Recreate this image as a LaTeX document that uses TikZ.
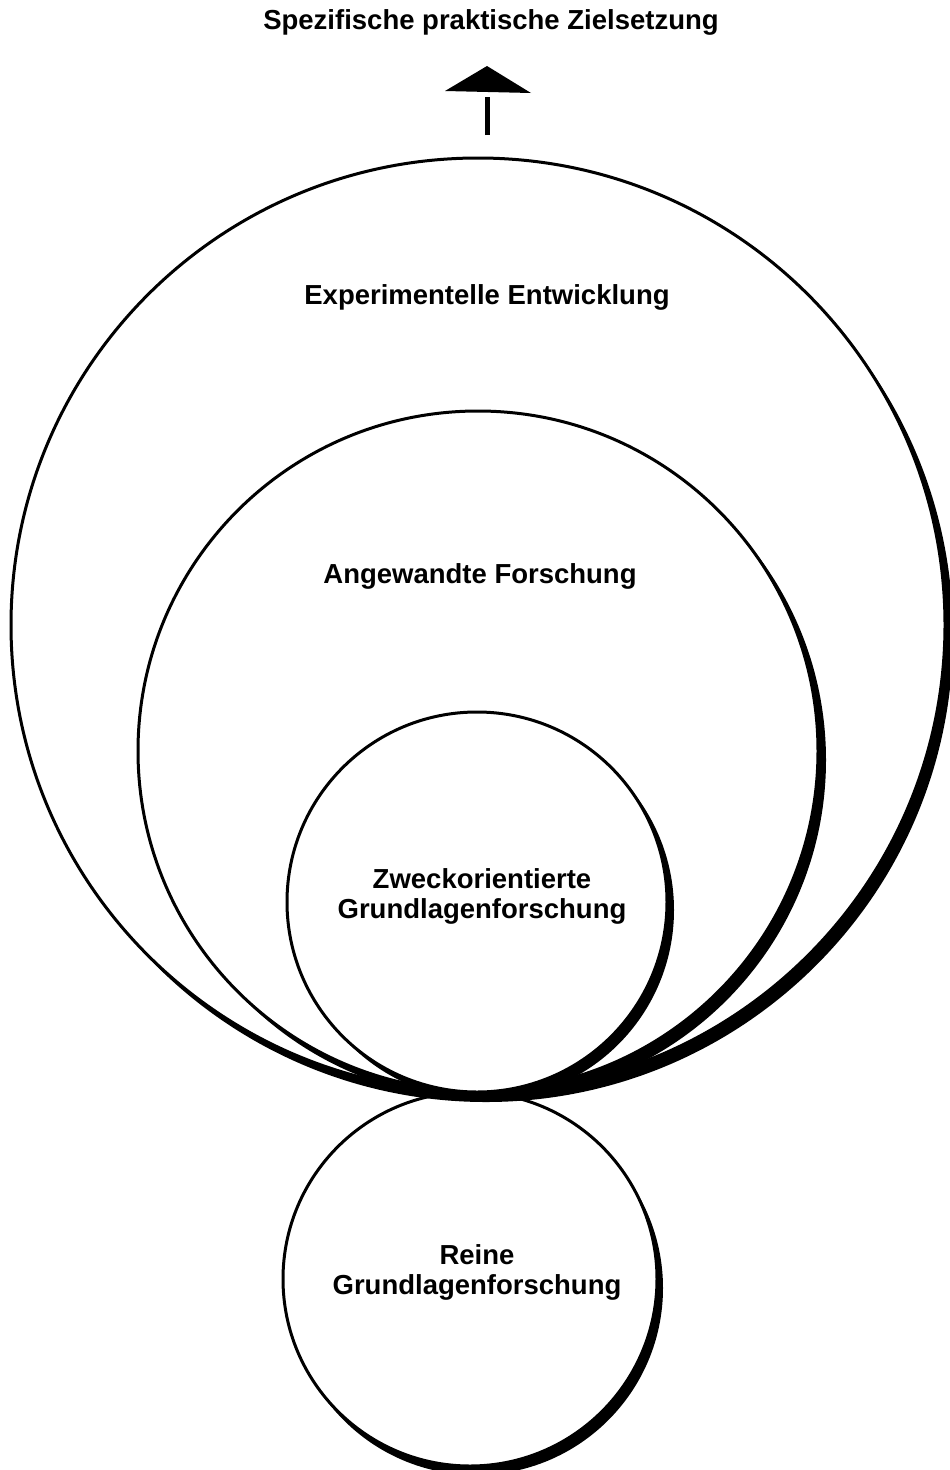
\documentclass[tikz,border=0pt]{standalone}
\usepackage{fontspec}
\setmainfont{Liberation Sans}
\begin{document}
\begin{tikzpicture}[x=1pt,y=-1pt,
  ring/.style={fill=white, draw=black, line width=3pt},
  shadowfill/.style={fill=black},
  lbl/.style={font=\bfseries\fontsize{27.5}{30}\selectfont, align=center, inner sep=0pt}]
\useasboundingbox (0,0) rectangle (950,1470);
% centres
\coordinate (cE) at (478,625);
\coordinate (cA) at (478,751);
\coordinate (cZ) at (477,902);
\coordinate (cR) at (470,1279);
% bottom circle
\fill[shadowfill] ([shift={(6,9)}]cR) circle (187pt);
\path[ring] (cR) circle (187pt);
% outer circle
\fill[shadowfill] ([shift={(8,10)}]cE) circle (467pt);
\path[ring] (cE) circle (467pt);
% middle circle
\fill[shadowfill] ([shift={(8,9)}]cA) circle (340pt);
\path[ring] (cA) circle (340pt);
% small circle
\fill[shadowfill] ([shift={(7,8)}]cZ) circle (190pt);
\path[ring] (cZ) circle (190pt);
% labels
\node[lbl] (title) at (491,22) {Spezifische praktische Zielsetzung};
\node[lbl] (exp) at (487,297) {Experimentelle Entwicklung};
\node[lbl] (ang) at (480,576) {Angewandte Forschung};
\node[lbl] (zweck) at (482,896) {Zweckorientierte\\Grundlagenforschung};
\node[lbl] (rein) at (477,1272) {Reine\\Grundlagenforschung};
% arrow
\coordinate (shaftA) at (487,135);
\coordinate (shaftB) at (487,97);
\coordinate (tipApex) at (487,66);
\coordinate (tipL) at (445,91);
\coordinate (tipR) at (531,93);
\draw[line width=5pt] (shaftA) -- (shaftB);
\fill (tipApex) -- (tipL) -- (tipR) -- cycle;
\end{tikzpicture}
\end{document}
